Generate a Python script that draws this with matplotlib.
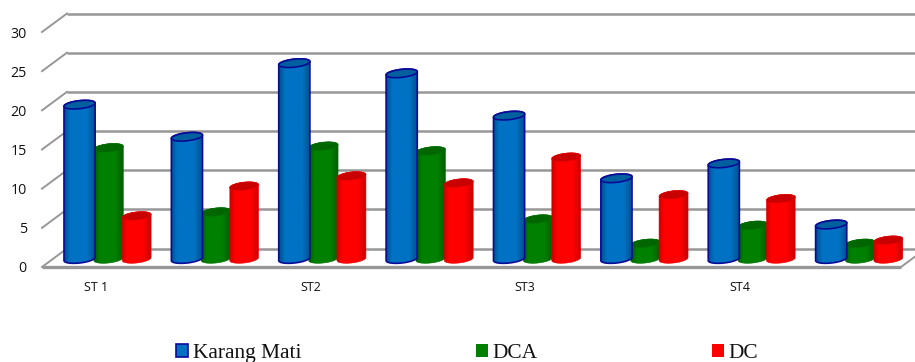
import numpy as np
import matplotlib
matplotlib.use("Agg")
import matplotlib.pyplot as plt
from matplotlib.colors import LinearSegmentedColormap
from matplotlib.patches import PathPatch, Patch
from matplotlib.path import Path
from matplotlib.transforms import Affine2D, IdentityTransform

# Chart values
categories = ["ST 1", "", "ST2", "", "ST3", "", "ST4", ""]
value_ticks = [0, 5, 10, 15, 20, 25, 30]
karang_mati = [19.7, 15.6, 25.0, 23.7, 18.3, 10.3, 12.2, 4.4]
dca = [14.2, 6.0, 14.4, 13.8, 5.1, 2.0, 4.3, 2.0]
dc = [5.5, 9.3, 10.6, 9.7, 13.0, 8.2, 7.7, 2.4]

# Pseudo-3D depth offsets, in pixels
WALL_DX, WALL_DY = 25, 18.5
BAR_DX, BAR_DY = 12, 8
CAP_B = 4.0
TILT = np.tan(np.radians(6))

fig = plt.figure(figsize=(9.15, 3.62), dpi=100, facecolor="white")
ax = fig.add_axes([42 / 915, (362 - 267) / 362, 859 / 915, 235 / 362])
ax.set_xlim(-0.5, 7.5)
ax.set_ylim(0, 30)
ax.autoscale(False)
ax.patch.set_visible(False)
for side in ax.spines.values():
    side.set_visible(False)

ax.set_xticks(range(len(categories)), categories, fontfamily="Open Sans", fontsize=9, color="#111111")
ax.set_yticks(value_ticks, [str(v) for v in value_ticks], fontfamily="Open Sans", fontsize=10.2, color="#111111")
ax.tick_params(axis="x", length=0, pad=10)
ax.tick_params(axis="y", length=0, pad=11)

# Back wall gridlines, side wall diagonals and floor
wall = ax.transData + Affine2D().translate(WALL_DX, WALL_DY)
GRID = "#979797"
for v in value_ticks:
    ax.plot([-0.5, 7.7], [v, v], transform=wall, color=GRID, lw=1.8, clip_on=False,
            solid_capstyle="butt", zorder=1)
    x0, y0 = ax.transData.transform((-0.5, v))
    ax.plot([x0, x0 + WALL_DX], [y0, y0 + WALL_DY], transform=IdentityTransform(),
            color=GRID, lw=1.4, clip_on=False, zorder=1)
x0, y0 = ax.transData.transform((7.5, 0))
ax.plot([x0, x0 + WALL_DX], [y0, y0 + WALL_DY], transform=IdentityTransform(),
        color=GRID, lw=1.4, clip_on=False, zorder=1)
ax.plot([-0.5, 7.5], [0, 0], color=GRID, lw=2.4, clip_on=False, solid_capstyle="butt", zorder=1.5)


def cap_points(cx, cy, a, start, stop, n=40):
    t = np.linspace(start, stop, n)
    return np.column_stack([cx + a * np.cos(t), cy + CAP_B * np.sin(t) + a * np.cos(t) * TILT])


def cylinder(x, value, width, ramp, cap_color, edge, edge_lw, z):
    cx, base = ax.transData.transform((x, 0)) + (BAR_DX, BAR_DY)
    _, top = ax.transData.transform((x, value)) + (BAR_DX, BAR_DY)
    a = (ax.transData.transform((x + width / 2, 0))[0] - ax.transData.transform((x, 0))[0])
    lower = cap_points(cx, base, a, np.pi, 2 * np.pi)
    upper = cap_points(cx, top, a, 0, np.pi)
    outline = np.vstack([lower, upper, lower[:1]])
    body = Path(outline, closed=True)
    im = ax.imshow(np.linspace(0, 1, 64).reshape(1, -1), cmap=ramp, aspect="auto",
                   extent=(cx - a, cx + a, base - 10, top + 10), interpolation="bilinear",
                   transform=IdentityTransform(), zorder=z)
    im.set_clip_box(fig.bbox)
    im.set_clip_path(body, IdentityTransform())
    ax.add_patch(PathPatch(body, facecolor="none", edgecolor=edge, lw=edge_lw,
                           transform=IdentityTransform(), clip_on=False, zorder=z + 0.01))
    cap = Path(cap_points(cx, top, a, 0, 2 * np.pi, 80), closed=True)
    ax.add_patch(PathPatch(cap, facecolor=cap_color, edgecolor=edge, lw=edge_lw,
                           transform=IdentityTransform(), clip_on=False, zorder=z + 0.02))


def gradient(dark, mid):
    # Narrow shaded rims around a flat centre
    return LinearSegmentedColormap.from_list(
        "cyl", [(0, dark), (0.18, mid), (0.72, mid), (1, dark)])


series = [
    # values, offset, width, rim colour, centre colour, cap colour, edge colour, edge width, draw order
    (dca, 0.008, 0.275, "#005c00", "#008000", "#006600", "#007000", 0.4, 2),
    (dc, 0.27, 0.27, "#cc0000", "#ff0000", "#c80000", "#e80000", 0.4, 3),
    (karang_mati, -0.262, 0.29, "#004f8c", "#0072c4", "#005f9e", "#0a0a96", 1.2, 4),
]
for values, offset, width, rim, mid, cap_color, edge, edge_lw, z in series:
    ramp = gradient(rim, mid)
    for i, v in enumerate(values):
        cylinder(i + offset, v, width, ramp, cap_color, edge, edge_lw, z + i * 0.1)

handles = [
    Patch(facecolor="#0070c0", edgecolor="#0a0a96", lw=1.2, label="Karang Mati"),
    Patch(facecolor="#008000", edgecolor="#008000", lw=0, label="DCA"),
    Patch(facecolor="#ff0000", edgecolor="#ff0000", lw=0, label="DC"),
]
fig.legend(handles=handles, ncol=3, loc="lower left", bbox_to_anchor=(172 / 915, -5 / 362),
           frameon=False, prop={"family": "Liberation Serif", "size": 15.4},
           handlelength=0.56, handleheight=0.56, handletextpad=0.2, columnspacing=8.18,
           labelcolor="#111111", borderpad=0.2, borderaxespad=0)

fig.savefig("out.png", dpi=100, facecolor="white")
